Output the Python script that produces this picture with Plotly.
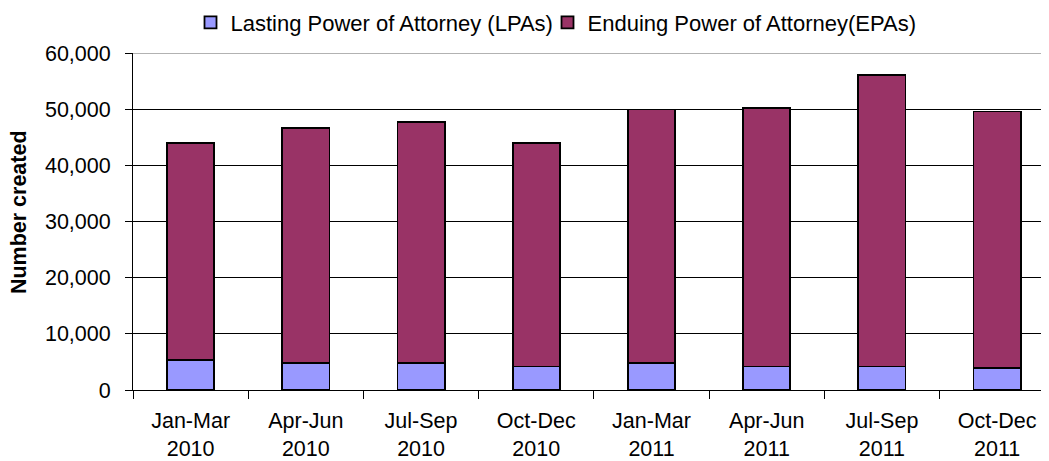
import plotly.graph_objects as go

categories = ["Jan-Mar<br>2010", "Apr-Jun<br>2010", "Jul-Sep<br>2010", "Oct-Dec<br>2010",
              "Jan-Mar<br>2011", "Apr-Jun<br>2011", "Jul-Sep<br>2011", "Oct-Dec<br>2011"]
lpa_values = [5400, 4850, 4850, 4200, 4850, 4200, 4200, 3850]
epa_values = [38600, 41850, 42850, 39800, 45100, 46050, 51950, 45750]
y_ticks = [0, 10000, 20000, 30000, 40000, 50000, 60000]
y_tick_labels = ["0", "10,000", "20,000", "30,000", "40,000", "50,000", "60,000"]

FONT = "Liberation Sans, Arial, sans-serif"

# page body has an 8px margin, so the figure starts at (8, 8); size it to fit the window
W, H = 1041, 453
L, T = 125, 44.5
B = H - 382.3
PW = W - L
PH = H - T - B

fig = go.Figure()
fig.add_trace(go.Bar(
    x=categories, y=lpa_values, name="Lasting Power of Attorney (LPAs)",
    marker=dict(color="#9999FF", line=dict(color="black", width=1.8)),
    legend="legend",
))
fig.add_trace(go.Bar(
    x=categories, y=epa_values, name="Enduing Power of Attorney(EPAs)",
    marker=dict(color="#993366", line=dict(color="black", width=1.8)),
    legend="legend2",
))

legend_common = dict(orientation="h", xanchor="left", y=(H - B - 14) / PH, yanchor="middle",
                     font=dict(size=22, family=FONT, color="black"), itemwidth=30,
                     bgcolor="rgba(0,0,0,0)")

fig.update_layout(
    width=W, height=H,
    barmode="stack", bargap=0.59,
    margin=dict(l=L, r=0, t=T, b=B, autoexpand=False),
    paper_bgcolor="white", plot_bgcolor="white",
    font=dict(family=FONT, size=21.5, color="black"),
    showlegend=True,
    legend=dict(x=(182.5 - L) / PW, **legend_common),
    legend2=dict(x=(539.5 - L) / PW, **legend_common),
    xaxis=dict(
        range=[-0.5, 7.45], showline=True, linecolor="black", linewidth=1,
        ticks="outside", tickson="boundaries", ticklen=8, tickcolor="black",
        showgrid=False, tickfont=dict(size=21.5), fixedrange=True,
        automargin=False, ticklabelstandoff=11,
    ),
    yaxis=dict(
        range=[0, 60000], tickvals=y_ticks, ticktext=y_tick_labels,
        showline=True, linecolor="black", linewidth=1,
        ticks="outside", ticklen=7, tickcolor="black",
        showgrid=True, gridcolor="black", gridwidth=1, zeroline=False,
        tickfont=dict(size=21.5), ticklabelstandoff=10, automargin=False,
    ),
)
fig.add_annotation(text="<b>Number created</b>", xref="paper", yref="paper",
                   x=(10.5 - L) / PW, y=(H - B - 204.5) / PH,
                   xanchor="center", yanchor="middle", textangle=-90,
                   showarrow=False, font=dict(size=21.5, family=FONT, color="black"))
fig.add_shape(type="line", xref="paper", yref="y", x0=0, x1=1, y0=60000, y1=60000,
              line=dict(color="#999999", width=1.5))

fig.write_html("out.html")
